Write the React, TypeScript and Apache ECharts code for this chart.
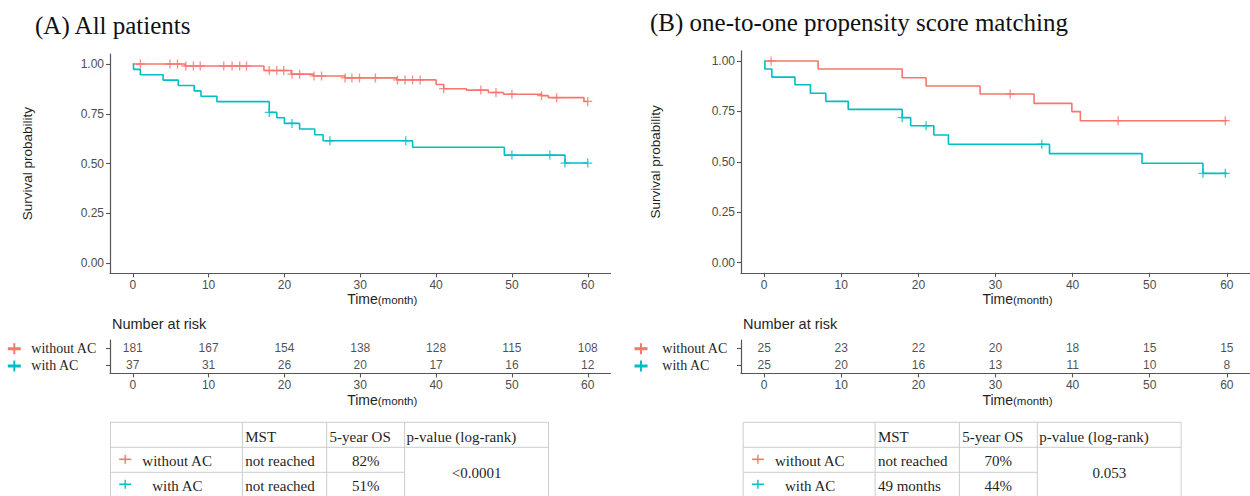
import React, { useEffect, useRef } from 'react';
import * as echarts from 'echarts';

// ---------- data ----------
const timeTicks = [0, 10, 20, 30, 40, 50, 60];
const probTicks = [0, 0.25, 0.5, 0.75, 1];
const groupNames = ['without AC', 'with AC'];

// (A) All patients – Kaplan-Meier steps [time, survival]
const allWithoutSteps = [
  [0, 1], [6.9, 0.99], [17.3, 0.967], [20.9, 0.949], [23.8, 0.94], [28.0, 0.93],
  [34.8, 0.92], [40.0, 0.897], [41.0, 0.876], [44.0, 0.869], [46.9, 0.857],
  [48.9, 0.848], [53.9, 0.841], [54.8, 0.831], [59.5, 0.812], [60, 0.812],
];
const allWithoutCensor = [
  [1.0, 1], [4.9, 1], [5.9, 1], [7.0, 0.99], [8.0, 0.99], [8.9, 0.99], [12.0, 0.99],
  [13.1, 0.99], [14.1, 0.99], [15.0, 0.99], [18.0, 0.967], [19.0, 0.967], [19.9, 0.967],
  [21.0, 0.949], [22.0, 0.949], [23.9, 0.94], [24.9, 0.94], [28.0, 0.93], [28.9, 0.93],
  [29.9, 0.93], [32.0, 0.93], [34.9, 0.92], [35.9, 0.92], [36.9, 0.92], [37.9, 0.92],
  [41.0, 0.876], [45.9, 0.869], [47.9, 0.857], [50.0, 0.848], [53.9, 0.841],
  [55.9, 0.831], [60, 0.812],
];
const allWithSteps = [
  [0, 1], [0.1, 0.973], [1.0, 0.946], [4.0, 0.919], [6.0, 0.892], [8.1, 0.865],
  [9.0, 0.838], [11.1, 0.811], [18.0, 0.757], [19.0, 0.73], [20.0, 0.702],
  [22.0, 0.674], [24.0, 0.645], [25.1, 0.615], [36.9, 0.582], [49.0, 0.543],
  [57.0, 0.503], [60, 0.503],
];
const allWithCensor = [
  [18.0, 0.757], [21.0, 0.702], [26.0, 0.615], [36.0, 0.615], [50.0, 0.543],
  [55.0, 0.543], [57.0, 0.503], [60, 0.503],
];

// (B) propensity score matching
const psmWithoutSteps = [
  [0, 1], [7.0, 0.96], [17.9, 0.917], [21.0, 0.876], [28.0, 0.836], [35.0, 0.79],
  [39.9, 0.749], [41.0, 0.704], [60, 0.704],
];
const psmWithoutCensor = [[0.9, 1], [31.9, 0.836], [45.9, 0.704], [59.8, 0.704]];
const psmWithSteps = [
  [0, 1], [0.1, 0.96], [1.0, 0.92], [4.0, 0.882], [6.0, 0.84], [8.0, 0.8],
  [10.9, 0.76], [17.9, 0.719], [19.0, 0.679], [22.0, 0.633], [23.9, 0.587],
  [37.0, 0.541], [49.0, 0.493], [56.9, 0.443], [60, 0.443],
];
const psmWithCensor = [[17.9, 0.719], [21.0, 0.679], [36.0, 0.587], [56.9, 0.443], [59.8, 0.443]];

// numbers at risk
const allRiskWithout = [181, 167, 154, 138, 128, 115, 108];
const allRiskWith = [37, 31, 26, 20, 17, 16, 12];
const psmRiskWithout = [25, 23, 22, 20, 18, 15, 15];
const psmRiskWith = [25, 20, 16, 13, 11, 10, 8];

// summary tables
const tableHeader = ['MST', '5-year OS', 'p-value (log-rank)'];
const allMST = ['not reached', 'not reached'];
const allOS = ['82%', '51%'];
const allP = '<0.0001';
const psmMST = ['not reached', '49 months'];
const psmOS = ['70%', '44%'];
const psmP = '0.053';

const titles = ['(A) All patients', '(B) one-to-one propensity score matching'];

// ---------- styles ----------
const SANS = "'Liberation Sans', Arial, Helvetica, sans-serif";
const SERIF = "'Liberation Serif', 'Times New Roman', Times, serif";
const RED = '#F8766D';
const TEAL = '#00BFC4';
const AXIS = '#555555';
const TICKTXT = '#4d4d4d';
const INK = '#1f1f1f';
const PLUS = 'path://M4.25,0H5.75V4.25H10V5.75H5.75V10H4.25V5.75H0V4.25H4.25Z';

const panels = [
  {
    plot: { left: 110, top: 54, width: 500.5, height: 219.3 },
    table: { left: 110, top: 340, width: 500.5, height: 33.4 },
    yNameGap: 75.5,
    titleLeft: 35,
    titleTop: 10,
    narLeft: 112,
    legendX: 14.3,
    tableX0: 110.5,
    steps: [allWithoutSteps, allWithSteps],
    censor: [allWithoutCensor, allWithCensor],
    risk: [allRiskWithout, allRiskWith],
    mst: allMST,
    os: allOS,
    p: allP,
  },
  {
    plot: { left: 741, top: 50.9, width: 511, height: 221.9 },
    table: { left: 741, top: 340, width: 511, height: 33.4 },
    yNameGap: 78.5,
    titleLeft: 650,
    titleTop: 7.5,
    narLeft: 743,
    legendX: 641,
    tableX0: 743.2,
    steps: [psmWithoutSteps, psmWithSteps],
    censor: [psmWithoutCensor, psmWithCensor],
    risk: [psmRiskWithout, psmRiskWith],
    mst: psmMST,
    os: psmOS,
    p: psmP,
  },
];

const timeName = '{a|Time}{b|(month)}';
const timeNameStyle = {
  padding: [0, 0, 0, 44],
  rich: {
    a: { fontSize: 14, fontFamily: SANS, color: INK, lineHeight: 16, verticalAlign: 'bottom' },
    b: { fontSize: 11.5, fontFamily: SANS, color: INK, lineHeight: 16, verticalAlign: 'bottom' },
  },
};

function timeAxis(gridIndex: number, margin: number, nameGap: number) {
  return {
    gridIndex,
    type: 'value',
    min: -3,
    max: 63,
    axisLine: { show: true, onZero: false, lineStyle: { color: AXIS, width: 1.2 } },
    axisTick: { show: true, length: 4, customValues: timeTicks, lineStyle: { color: AXIS, width: 1.1 } },
    axisLabel: { customValues: timeTicks, color: TICKTXT, fontSize: 12, fontFamily: SANS, margin },
    splitLine: { show: false },
    name: timeName,
    nameLocation: 'middle',
    nameGap,
    nameTextStyle: timeNameStyle,
  };
}

function cross(cx: number, cy: number, w: number, h: number, th: number, tv: number, color: string) {
  return [
    { type: 'rect', silent: true, shape: { x: cx - w / 2, y: cy - th / 2, width: w, height: th }, style: { fill: color } },
    { type: 'rect', silent: true, shape: { x: cx - tv / 2, y: cy - h / 2, width: tv, height: h }, style: { fill: color } },
  ];
}

function txt(text: string, x: number, y: number, align: string) {
  return {
    type: 'text',
    silent: true,
    x,
    y,
    style: { text, fontSize: 15, fontFamily: SERIF, fill: INK, align, verticalAlign: 'middle' },
  };
}

function summaryTable(x0: number, mst: string[], os: string[], p: string) {
  const cols = [0, 131.9, 216.2, 294.1, 438];
  const y0 = 422.3;
  const rowH = 25;
  const yEnd = y0 + 3 * rowH;
  const line = (x1: number, y1: number, x2: number, y2: number) => ({
    type: 'line',
    silent: true,
    shape: { x1, y1, x2, y2 },
    style: { stroke: '#cccccc', lineWidth: 1 },
  });
  const els: any[] = [
    {
      type: 'rect',
      silent: true,
      shape: { x: x0, y: y0, width: cols[4], height: yEnd - y0 },
      style: { fill: 'none', stroke: '#cccccc', lineWidth: 1 },
    },
    line(x0 + cols[1], y0, x0 + cols[1], yEnd),
    line(x0 + cols[2], y0, x0 + cols[2], yEnd),
    line(x0 + cols[3], y0, x0 + cols[3], yEnd),
    line(x0, y0 + rowH, x0 + cols[4], y0 + rowH),
    line(x0, y0 + 2 * rowH, x0 + cols[3], y0 + 2 * rowH),
  ];
  const hy = y0 + rowH / 2 + 2;
  els.push(txt(tableHeader[0], x0 + cols[1] + 2.8, hy, 'left'));
  els.push(txt(tableHeader[1], x0 + cols[2] + 2.8, hy, 'left'));
  els.push(txt(tableHeader[2], x0 + cols[3] + 2, hy, 'left'));
  const rowY = [y0 + rowH * 1.5 + 1.5, y0 + rowH * 2.5 + 1.5];
  const nameX = [x0 + 31.8, x0 + 41.7];
  const colors = [RED, TEAL];
  for (let i = 0; i < 2; i++) {
    els.push(...cross(x0 + 14.7, rowY[i] - 2, 12, 9, 1.6, 1.4, colors[i]));
    els.push(txt(groupNames[i], nameX[i], rowY[i], 'left'));
    els.push(txt(mst[i], x0 + cols[1] + 2.8, rowY[i], 'left'));
    els.push(txt(os[i], x0 + (cols[2] + cols[3]) / 2, rowY[i], 'center'));
  }
  els.push(txt(p, x0 + (cols[3] + cols[4]) / 2, y0 + 2 * rowH + 1, 'center'));
  return els;
}

function buildOption() {
  const grid: any[] = [];
  const xAxis: any[] = [];
  const yAxis: any[] = [];
  const series: any[] = [];
  const title: any[] = [];
  const graphic: any[] = [];
  const colors = [RED, TEAL];

  panels.forEach((pn, k) => {
    const gPlot = grid.length;
    grid.push({ ...pn.plot, containLabel: false });
    const gTab = grid.length;
    grid.push({ ...pn.table, containLabel: false });

    xAxis.push(timeAxis(gPlot, 6, 17));
    xAxis.push(timeAxis(gTab, 6, 18));

    yAxis.push({
      gridIndex: gPlot,
      type: 'value',
      min: -0.05,
      max: 1.05,
      axisLine: { show: true, onZero: false, lineStyle: { color: AXIS, width: 1.2 } },
      axisTick: { show: true, length: 4, customValues: probTicks, lineStyle: { color: AXIS, width: 1.1 } },
      axisLabel: {
        customValues: probTicks,
        formatter: (v: number) => v.toFixed(2),
        color: TICKTXT,
        fontSize: 12,
        fontFamily: SANS,
        margin: 6,
      },
      splitLine: { show: false },
      name: 'Survival probability',
      nameLocation: 'middle',
      nameRotate: 90,
      nameGap: pn.yNameGap,
      nameTextStyle: { fontSize: 13.5, fontFamily: SANS, color: INK },
    });
    yAxis.push({
      gridIndex: gTab,
      type: 'category',
      data: [groupNames[1], groupNames[0]],
      boundaryGap: true,
      axisLine: { show: true, onZero: false, lineStyle: { color: AXIS, width: 1.2 } },
      axisTick: { show: true, alignWithLabel: true, interval: 0, length: 4, lineStyle: { color: AXIS, width: 1.1 } },
      axisLabel: {
        interval: 0,
        hideOverlap: false,
        fontSize: 14,
        fontFamily: SERIF,
        color: INK,
        align: 'left',
        margin: 78.7,
      },
      splitLine: { show: false },
    });

    const xPlot = k * 2;
    const xTab = k * 2 + 1;
    for (let i = 0; i < 2; i++) {
      series.push({
        type: 'line',
        name: groupNames[i],
        xAxisIndex: xPlot,
        yAxisIndex: xPlot,
        step: 'end',
        showSymbol: false,
        symbol: 'none',
        lineStyle: { color: colors[i], width: 1.6 },
        itemStyle: { color: colors[i] },
        data: pn.steps[i],
        z: 2,
      });
      series.push({
        type: 'scatter',
        name: groupNames[i],
        xAxisIndex: xPlot,
        yAxisIndex: xPlot,
        symbol: PLUS,
        symbolSize: 9,
        itemStyle: { color: colors[i] },
        data: pn.censor[i],
        z: 3,
      });
      series.push({
        type: 'scatter',
        name: groupNames[i],
        xAxisIndex: xTab,
        yAxisIndex: xTab,
        symbolSize: 1,
        itemStyle: { color: 'transparent' },
        label: {
          show: true,
          position: 'inside',
          formatter: (p: any) => String(p.value[2]),
          fontSize: 12,
          fontFamily: SANS,
          color: INK,
        },
        data: timeTicks.map((t, j) => [t, groupNames[i], pn.risk[i][j]]),
      });
      graphic.push(...cross(pn.legendX, 348.7 + i * 17.3, 13, 11, 3, 2, colors[i]));
    }

    title.push({
      text: titles[k],
      left: pn.titleLeft,
      top: pn.titleTop,
      padding: 0,
      textStyle: { fontFamily: SERIF, fontSize: 25, fontWeight: 'normal', color: '#111', lineHeight: 30 },
    });
    title.push({
      text: 'Number at risk',
      left: pn.narLeft,
      top: 316,
      padding: 0,
      textStyle: { fontFamily: SANS, fontSize: 14.5, fontWeight: 'normal', color: INK, lineHeight: 16 },
    });
    graphic.push(...summaryTable(pn.tableX0, pn.mst, pn.os, pn.p));
  });

  return {
    animation: false,
    backgroundColor: '#ffffff',
    title,
    grid,
    xAxis,
    yAxis,
    series,
    graphic,
  };
}

export default function App() {
  const ref = useRef<HTMLDivElement>(null);
  useEffect(() => {
    if (!ref.current) return;
    const chart = echarts.init(ref.current, undefined, { renderer: 'svg' });
    chart.setOption(buildOption() as any);
    return () => chart.dispose();
  }, []);
  return (
    <div
      ref={ref}
      style={{ position: 'fixed', left: 0, top: 0, width: 1250, height: 496, background: '#fff' }}
    />
  );
}
